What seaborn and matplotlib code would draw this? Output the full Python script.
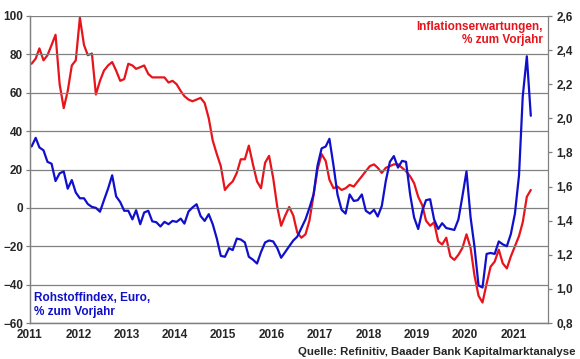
import numpy as np
import pandas as pd
import matplotlib.pyplot as plt
import matplotlib.dates as mdates
import seaborn as sns

# Monatswerte Jan 2011 - Mai 2021
rohstoff = [32, 36.5, 31.5, 30, 24, 23, 14, 18, 19, 10, 14.5, 8,
            5, 5, 2, 0.5, 0, -2, 4, 10, 17, 6, 3, -1.5,
            -1.5, -6, -1.2, -8.5, -2.4, -1.5, -7, -7.5, -9.7, -7.3, -8.5, -6.8,
            -7.3, -5.6, -8.2, -1.9, 0.2, 1.9, -4.2, -6.8, -3.3, -8.5, -16, -25,
            -25.5, -21, -22, -16, -16.5, -18, -25.5, -27, -29, -23, -18, -17,
            -17.5, -21, -26, -23, -20, -17, -15, -10.5, -6, 0, 7, 22,
            31, 32, 36, 22, 7, -1, -3, 7, 3.6, 4, 7, -1.5,
            -3, -1, -4.5, 1, 14, 24, 27, 21, 24.5, 24, 7, -5,
            -11, -1.5, 4, 4.5, -6, -11, -8, -10.5, -11, -11.5, -6, 6,
            19, -5, -20, -40.5, -41.5, -24, -23.5, -24, -17.5, -19, -20, -13.7,
            -3, 17, 58, 79, 48]

inflation = [2.32, 2.35, 2.41, 2.34, 2.37, 2.43, 2.49, 2.20, 2.06, 2.16, 2.31, 2.34,
             2.59, 2.43, 2.37, 2.38, 2.14, 2.22, 2.28, 2.31, 2.33, 2.28, 2.22, 2.23,
             2.32, 2.31, 2.29, 2.30, 2.31, 2.26, 2.24, 2.24, 2.24, 2.24, 2.21, 2.22,
             2.20, 2.16, 2.13, 2.11, 2.10, 2.11, 2.12, 2.09, 2.00, 1.87, 1.79, 1.72,
             1.58, 1.61, 1.63, 1.68, 1.76, 1.76, 1.84, 1.73, 1.63, 1.59, 1.74, 1.78,
             1.65, 1.48, 1.37, 1.43, 1.48, 1.43, 1.33, 1.30, 1.32, 1.40, 1.55, 1.70,
             1.79, 1.75, 1.64, 1.59, 1.60, 1.58, 1.59, 1.61, 1.60, 1.63, 1.66, 1.69,
             1.72, 1.73, 1.71, 1.68, 1.71, 1.72, 1.73, 1.73, 1.71, 1.69, 1.66, 1.62,
             1.54, 1.49, 1.40, 1.37, 1.39, 1.28, 1.26, 1.30, 1.19, 1.17, 1.20, 1.24,
             1.32, 1.24, 1.08, 0.96, 0.92, 1.03, 1.13, 1.16, 1.23, 1.15, 1.12, 1.19,
             1.25, 1.31, 1.39, 1.54, 1.58]

datum = pd.date_range("2011-01-01", periods=len(rohstoff), freq="MS") + pd.Timedelta(days=12)
df = pd.DataFrame({"Datum": datum, "Rohstoff": rohstoff, "Inflation": inflation})

sns.set_style("white")
plt.rcParams["font.family"] = ["Liberation Sans", "DejaVu Sans"]
plt.rcParams["font.weight"] = "bold"

fig = plt.figure(figsize=(5.8, 3.59), dpi=100)
ax = fig.add_axes([30 / 580, 1 - 323 / 359, 518 / 580, 307 / 359])
ax2 = ax.twinx()

blau = "#1010CC"
rot = "#E8141C"

sns.lineplot(data=df, x="Datum", y="Rohstoff", ax=ax, color=blau, lw=1.6)
sns.lineplot(data=df, x="Datum", y="Inflation", ax=ax2, color=rot, lw=1.6)
ax.set_zorder(ax2.get_zorder() + 1)
ax.patch.set_visible(False)

ax.set_ylim(-60, 100)
ax.set_yticks(range(-60, 101, 20))
ax2.set_ylim(0.8, 2.6)
ax2.set_yticks(np.arange(0.8, 2.61, 0.2))
ax2.set_yticklabels([f"{v:.1f}".replace(".", ",") for v in np.arange(0.8, 2.61, 0.2)])

ax.set_xlim(pd.Timestamp("2011-01-01"), pd.Timestamp("2021-09-20"))
ax.xaxis.set_major_locator(mdates.YearLocator())
ax.xaxis.set_major_formatter(mdates.DateFormatter("%Y"))

ax.grid(axis="y", color="#808080", lw=0.9)
ax.set_axisbelow(True)
ax2.grid(False)
ax.set_xlabel("")
ax.set_ylabel("")
ax2.set_xlabel("")
ax2.set_ylabel("")

for a in (ax, ax2):
    a.spines["top"].set_visible(False)
    for s in ("left", "right", "bottom"):
        a.spines[s].set_color("#808080")
        a.spines[s].set_linewidth(0.9)
ax.spines["right"].set_visible(False)
ax.tick_params(axis="both", which="major", length=3, width=0.9, color="#808080",
               labelsize=8.5, pad=2)
ax.tick_params(axis="x", pad=1)
ax2.tick_params(axis="y", length=3, width=0.9, color="#808080", labelsize=8.5, pad=3)
for lab in ax.get_xticklabels() + ax.get_yticklabels() + ax2.get_yticklabels():
    lab.set_fontweight("bold")

ax.text(0.99, 0.985, "Inflationserwartungen,\n% zum Vorjahr", transform=ax.transAxes,
        ha="right", va="top", color=rot, fontsize=8.5, fontweight="bold", linespacing=1.15)
ax.text(0.008, 0.1, "Rohstoffindex, Euro,\n% zum Vorjahr", transform=ax.transAxes,
        ha="left", va="top", color=blau, fontsize=8.5, fontweight="bold", linespacing=1.15)
fig.text(0.993, 0.006, "Quelle: Refinitiv, Baader Bank Kapitalmarktanalyse",
         ha="right", va="bottom", fontsize=8.2, fontweight="bold")

plt.savefig("out.png", dpi=100)
plt.close()
